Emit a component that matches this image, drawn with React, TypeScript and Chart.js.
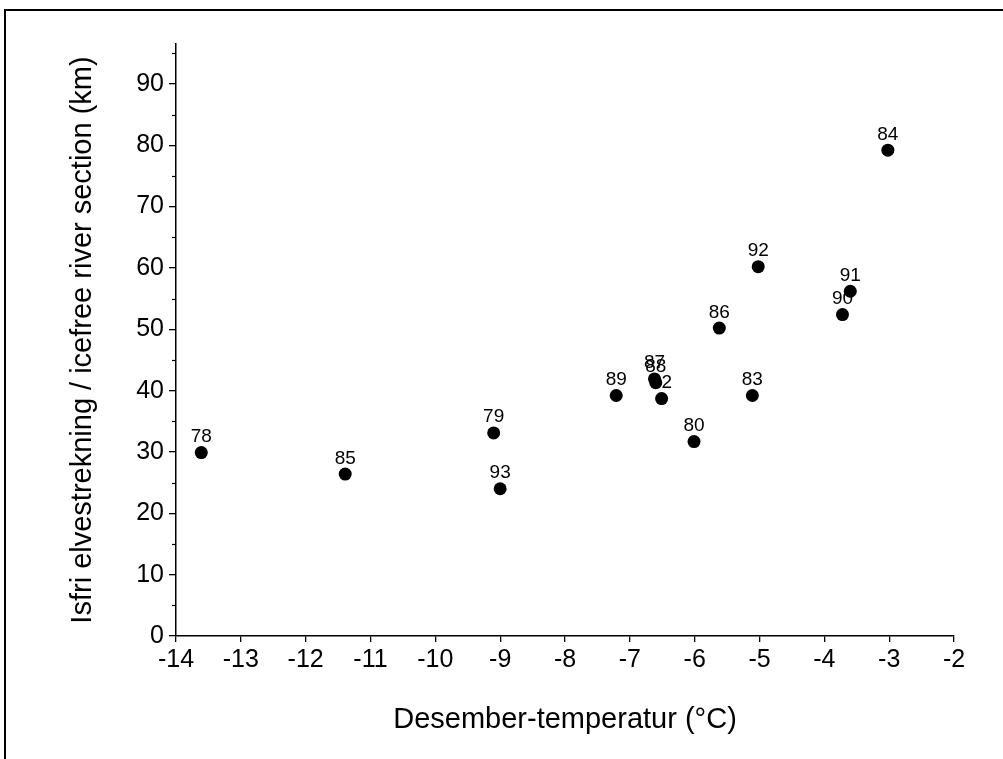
import React, { useEffect, useRef } from "react";
import { Chart, registerables } from "chart.js";

Chart.register(...registerables);

// Year labels (19xx) for each winter
const years = ["78", "85", "79", "93", "89", "87", "88", "82", "80", "86", "83", "92", "90", "91", "84"];
// December temperature (°C)
const temperatures = [-13.61, -11.39, -9.1, -9.0, -7.21, -6.62, -6.6, -6.51, -6.01, -5.62, -5.11, -5.02, -3.72, -3.6, -3.02];
// Ice-free river section (km)
const icefreeKm = [29.9, 26.4, 33.1, 24.0, 39.2, 41.9, 41.3, 38.7, 31.7, 50.2, 39.2, 60.2, 52.4, 56.2, 79.2];

const xTicks = [-14, -13, -12, -11, -10, -9, -8, -7, -6, -5, -4, -3, -2];
const yTicks = [0, 10, 20, 30, 40, 50, 60, 70, 80, 90];
const yMinorTicks = [5, 15, 25, 35, 45, 55, 65, 75, 85, 95];

const FONT = "'Liberation Sans', Arial, Helvetica, sans-serif";

const backgroundPlugin = {
  id: "bgFrame",
  beforeDraw(chart: any) {
    const { ctx, width, height } = chart;
    ctx.save();
    ctx.fillStyle = "#ffffff";
    ctx.fillRect(0, 0, width, height);
    ctx.restore();
  },
  afterDraw(chart: any) {
    const { ctx, width, height } = chart;
    ctx.save();
    ctx.strokeStyle = "#000";
    ctx.lineWidth = 2;
    ctx.beginPath();
    ctx.moveTo(5, height);
    ctx.lineTo(5, 10);
    ctx.lineTo(width, 10);
    ctx.stroke();
    ctx.restore();
  },
};

const minorTickPlugin = {
  id: "minorTicks",
  afterDraw(chart: any) {
    const { ctx } = chart;
    const y = chart.scales.y;
    const left = chart.chartArea.left;
    ctx.save();
    ctx.strokeStyle = "#000";
    ctx.lineWidth = 1.2;
    yMinorTicks.forEach((v) => {
      const py = Math.round(y.getPixelForValue(v)) + 0.5;
      ctx.beginPath();
      ctx.moveTo(left - 4, py);
      ctx.lineTo(left, py);
      ctx.stroke();
    });
    ctx.restore();
  },
};

const pointLabelPlugin = {
  id: "pointLabels",
  beforeDatasetsDraw(chart: any) {
    const { ctx } = chart;
    const meta = chart.getDatasetMeta(0);
    ctx.save();
    ctx.fillStyle = "#000";
    ctx.font = `19px ${FONT}`;
    ctx.textAlign = "center";
    ctx.textBaseline = "alphabetic";
    meta.data.forEach((el: any, i: number) => {
      ctx.fillText(years[i], el.x, el.y - 10.5);
    });
    ctx.restore();
  },
};

export default function App() {
  const canvasRef = useRef<HTMLCanvasElement | null>(null);

  useEffect(() => {
    if (!canvasRef.current) return;
    const points = temperatures.map((t, i) => ({ x: t, y: icefreeKm[i] }));
    const chart = new Chart(canvasRef.current, {
      type: "scatter",
      data: {
        datasets: [
          {
            label: "Isfri elvestrekning",
            data: points,
            pointRadius: 6.5,
            pointHoverRadius: 6.5,
            backgroundColor: "#000",
            borderColor: "#000",
            borderWidth: 0,
          },
        ],
      },
      options: {
        responsive: false,
        animation: false,
        devicePixelRatio: 1,
        layout: { padding: { left: 0, top: 44, right: 49, bottom: 0 } },
        plugins: {
          legend: { display: false },
          tooltip: { enabled: false },
          title: { display: false },
        },
        scales: {
          x: {
            type: "linear",
            position: "bottom",
            min: -14,
            max: -2,
            afterBuildTicks: (axis: any) => {
              axis.ticks = xTicks.map((v) => ({ value: v }));
            },
            afterFit: (axis: any) => {
              axis.height = 123;
            },
            grid: {
              display: true,
              drawOnChartArea: false,
              drawTicks: true,
              tickLength: 6,
              color: "#000",
              lineWidth: 1.3,
            },
            border: { display: true, color: "#000", width: 1.5 },
            ticks: {
              color: "#000",
              font: { family: FONT, size: 25 },
              padding: 3,
              maxRotation: 0,
              autoSkip: false,
            },
            title: {
              display: true,
              text: "Desember-temperatur (°C)",
              color: "#000",
              font: { family: FONT, size: 29 },
              padding: { top: 0, bottom: 22 },
            },
          },
          y: {
            type: "linear",
            min: 0,
            max: 96.5,
            afterBuildTicks: (axis: any) => {
              axis.ticks = yTicks.map((v) => ({ value: v }));
            },
            afterFit: (axis: any) => {
              axis.width = 176;
            },
            grid: {
              display: true,
              drawOnChartArea: false,
              drawTicks: true,
              tickLength: 7,
              color: "#000",
              lineWidth: 1.3,
            },
            border: { display: true, color: "#000", width: 1.5 },
            ticks: {
              color: "#000",
              font: { family: FONT, size: 25 },
              padding: 5,
              autoSkip: false,
            },
            title: {
              display: true,
              text: "Isfri elvestrekning / icefree river section (km)",
              color: "#000",
              font: { family: FONT, size: 29 },
              padding: { top: 66, bottom: 0 },
            },
          },
        },
      },
      plugins: [backgroundPlugin, minorTickPlugin, pointLabelPlugin],
    });
    return () => chart.destroy();
  }, []);

  return (
    <div style={{ position: "absolute", left: 0, top: 0, width: 1003, height: 759, background: "#fff" }}>
      <canvas ref={canvasRef} width={1003} height={759} style={{ width: 1003, height: 759, display: "block" }} />
    </div>
  );
}
